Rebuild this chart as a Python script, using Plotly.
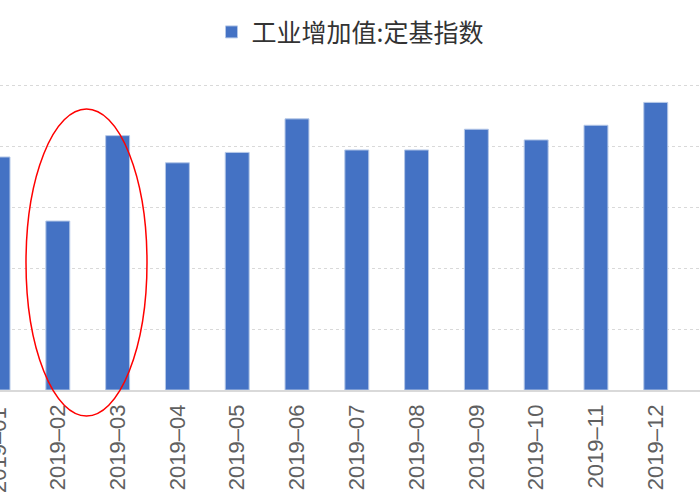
import plotly.graph_objs as go

# 工业增加值:定基指数, monthly 2019
months = ["2019-01", "2019-02", "2019-03", "2019-04", "2019-05", "2019-06",
          "2019-07", "2019-08", "2019-09", "2019-10", "2019-11", "2019-12"]
index_values = [76.4, 55.4, 83.4, 74.5, 77.9, 88.9, 78.7, 78.7, 85.5, 82.0, 86.8, 94.3]
tick_labels = [m.replace("-", "–") for m in months]
series_name = "工业增加值:定基指数"

x_lo, x_hi = 0.033, 11.74
tick_font = dict(family="Liberation Sans", size=22, color="#606060")

trace = go.Bar(
    x=list(range(len(months))),
    y=index_values,
    name=series_name,
    marker=dict(color="#4472C4", line=dict(color="#B4C7E7", width=1)),
)

layout = go.Layout(
    width=700,
    height=500,
    margin=dict(l=0, r=0, t=78, b=110),
    paper_bgcolor="white",
    plot_bgcolor="white",
    bargap=0.6,
    showlegend=True,
    legend=dict(
        orientation="h",
        x=0.5, xanchor="center",
        y=1.147, yanchor="middle",
        font=dict(family="Noto Sans CJK SC", size=25, color="#333333"),
        itemwidth=30,
    ),
    xaxis=dict(
        range=[x_lo, x_hi],
        tickmode="array",
        tickvals=list(range(len(months))),
        ticktext=tick_labels,
        tickangle=-90,
        tickfont=tick_font,
        ticklabelstandoff=4,
        showline=True,
        linecolor="#d9d9d9",
        linewidth=1.5,
        ticks="",
        showgrid=False,
        zeroline=False,
        automargin=False,
    ),
    yaxis=dict(
        range=[0, 102.3],
        dtick=20,
        showticklabels=False,
        showgrid=True,
        gridcolor="#d9d9d9",
        griddash="dot",
        zeroline=False,
        automargin=False,
    ),
    shapes=[
        dict(
            type="circle",
            xref="paper", yref="paper",
            x0=26 / 700, x1=147 / 700,
            y0=(390 - 416) / 312, y1=(390 - 109) / 312,
            line=dict(color="red", width=1.5),
        )
    ],
)

fig = go.Figure(data=[trace], layout=layout)

# first label sits just outside the visible range, so draw it by hand
fig.add_annotation(
    text=tick_labels[0],
    xref="paper", yref="paper",
    x=(0 - x_lo) / (x_hi - x_lo), y=-15 / 312,
    textangle=-90,
    xanchor="center", yanchor="top",
    showarrow=False,
    font=tick_font,
)

# drop the browser's default 8px body margin so the chart sits flush
fig.write_html(
    "out.html",
    config={"displayModeBar": False},
    post_script="document.body.style.margin='0';",
)
